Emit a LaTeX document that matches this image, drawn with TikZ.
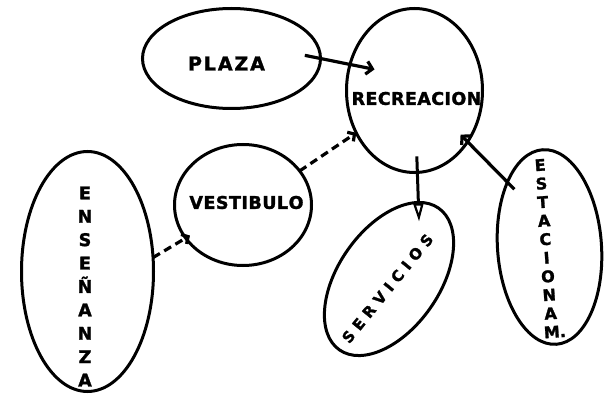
\documentclass[tikz,border=0pt]{standalone}
\usepackage{fontspec}
\usetikzlibrary{shapes.geometric,arrows.meta}
\newfontfamily\lett{DejaVu Sans}[UprightFont={* Bold}, FakeBold=1.6]
\makeatletter
\newcommand\spc[2]{\def\spc@k{#1}\spc@a#2\@nil}
\def\spc@a#1#2\@nil{#1\ifx\relax#2\relax\else\kern\spc@k\spc@a#2\@nil\fi}
\makeatother
\tikzset{
  bub/.style={ellipse, draw, line width=3pt, inner sep=0pt, outer sep=0pt},
  lab/.style={inner sep=0pt, outer sep=0pt},
  con/.style={line width=3.2pt, -{Straight Barb[length=6pt,width=13pt]}},
  dcon/.style={line width=3.2pt, dash pattern=on 8pt off 5pt, -{Straight Barb[length=5pt,width=11pt]}},
  tcon/.style={line width=3pt, -{Triangle[open,length=18pt,width=10pt,line width=2.2pt]}},
}
\begin{document}
\begin{tikzpicture}[x=1pt,y=-1pt]
\fill[white] (0,0) rectangle (606,396);
\useasboundingbox (0,0) rectangle (606,396);

% bubbles
\node[bub, minimum width=178pt, minimum height=100pt] (pla) at (231.5,58.5) {};
\node[bub, minimum width=136pt, minimum height=164pt] (rec) at (414.5,90.5) {};
\node[bub, minimum width=137pt, minimum height=121pt] (ves) at (243,205) {};
\node[bub, minimum width=132pt, minimum height=240pt] (ens) at (87.5,271.5) {};
\node[bub, minimum width=173pt, minimum height=101pt, rotate=55] (ser) at (389,279) {};
\node[bub, minimum width=104pt, minimum height=195pt, rotate=4] (est) at (549.5,247) {};

% labels
\node[lab, font=\lett\fontsize{19}{22}\selectfont] (tpla) at (226.5,63.5) {\spc{1.9pt}{PLAZA}};
\node[lab, font=\lett\fontsize{17.5}{21}\selectfont] (trec) at (416.5,98.5) {\spc{0.4pt}{RECREACION}};
\node[lab, font=\lett\fontsize{17.5}{21}\selectfont] (tves) at (246.5,202.5) {\spc{0.5pt}{VESTIBULO}};
\node[lab, rotate=51, font=\lett\fontsize{15}{18}\selectfont] (tser) at (387.5,288.5) {\spc{5.6pt}{SERVICIOS}};
\node[lab, align=center, font=\lett\fontsize{17.5}{23.4}\selectfont] (tens) at (85,286.5) {E\\N\\S\\E\\Ñ\\A\\N\\Z\\A};
\node[lab, align=center, rotate=4, font=\lett\fontsize{16}{18.6}\selectfont] (test) at (546,248.5) {E\\S\\T\\A\\C\\I\\O\\N\\A\\M\rlap{.}};

% connectors
\draw[con, shorten <=-16pt, shorten >=-25pt] (pla.0) -- (rec.158);
\draw[con, shorten <=-10pt, shorten >=-10pt] (est.119) -- (rec.-44);
\draw[dcon] (ves.31) -- (rec.216);
\draw[dcon, shorten >=-5pt] (ens.12) -- (ves.210);
\draw[tcon, shorten <=-16pt, shorten >=-19pt] (rec.-88) -- (ser.14);
\end{tikzpicture}
\end{document}
